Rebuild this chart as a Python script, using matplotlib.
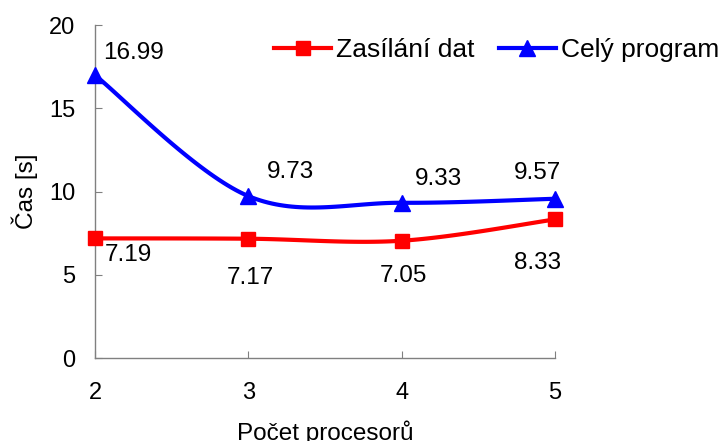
import numpy as np
import matplotlib
matplotlib.use("Agg")
import matplotlib.pyplot as plt

procs = [2, 3, 4, 5]
zasilani = [7.19, 7.17, 7.05, 8.33]
cely = [16.99, 9.73, 9.33, 9.57]
series_names = ["Zasílání dat", "Celý program"]
xlabel = "Počet procesorů"
ylabel = "Čas [s]"

plt.rcParams['font.family'] = ['Liberation Sans', 'DejaVu Sans']


def smooth(xs, ys, n=40):
    """Catmull-Rom style Bezier smoothing like Excel's smoothed line."""
    P = np.column_stack([xs, ys]).astype(float)
    Pext = np.vstack([P[0], P, P[-1]])
    out = []
    t = np.linspace(0, 1, n)[:, None]
    for i in range(len(P) - 1):
        p0, p1, p2, p3 = Pext[i], Pext[i + 1], Pext[i + 2], Pext[i + 3]
        c1 = p1 + (p2 - p0) / 6
        c2 = p2 - (p3 - p1) / 6
        seg = ((1 - t) ** 3) * p1 + 3 * ((1 - t) ** 2) * t * c1 + 3 * (1 - t) * t ** 2 * c2 + t ** 3 * p2
        out.append(seg if i == 0 else seg[1:])
    s = np.vstack(out)
    return s[:, 0], s[:, 1]


fig = plt.figure(figsize=(7.2, 4.41), dpi=100)
ax = fig.add_axes([0.132, 0.188, 0.639, 0.755])

red = '#FF0000'
blue = '#0000FF'

sx, sy = smooth(procs, zasilani)
ax.plot(sx, sy, color=red, lw=3, solid_capstyle='round', zorder=3, clip_on=False)
ax.plot(procs, zasilani, ls='none', marker='s', ms=10.5, color=red, zorder=4, clip_on=False)
sx, sy = smooth(procs, cely)
ax.plot(sx, sy, color=blue, lw=3, solid_capstyle='round', zorder=3, clip_on=False)
ax.plot(procs, cely, ls='none', marker='^', ms=11, color=blue, zorder=4, clip_on=False)

# legend proxies
ax.plot([], [], color=red, lw=3, marker='s', ms=10.5, label=series_names[0])
ax.plot([], [], color=blue, lw=3, marker='^', ms=11, label=series_names[1])

fs = 17.5
red_off = [(33, -17), (2, -39), (2, -35), (-18, -44)]
blue_off = [(38, 22), (42, 24), (37, 24), (-18, 26)]
for x, y, o in zip(procs, zasilani, red_off):
    ax.annotate(f"{y:.2f}", (x, y), xytext=(o[0] / 1.389, o[1] / 1.389), textcoords='offset points',
                ha='center', va='center', fontsize=fs, annotation_clip=False)
for x, y, o in zip(procs, cely, blue_off):
    ax.annotate(f"{y:.2f}", (x, y), xytext=(o[0] / 1.389, o[1] / 1.389), textcoords='offset points',
                ha='center', va='center', fontsize=fs, annotation_clip=False)

ax.set_xlim(2, 5)
ax.set_ylim(0, 20)
ax.set_xticks(procs)
ax.set_yticks([0, 5, 10, 15, 20])
for s in ['top', 'right']:
    ax.spines[s].set_visible(False)
for s in ['left', 'bottom']:
    ax.spines[s].set_color('#808080')
    ax.spines[s].set_linewidth(1)
ax.tick_params(axis='both', direction='in', length=5, color='#808080', labelsize=17)
ax.tick_params(axis='x', pad=17)
ax.tick_params(axis='y', pad=14)
ax.set_xlabel(xlabel, fontsize=fs, labelpad=12)
ax.set_ylabel(ylabel, fontsize=fs, labelpad=8)

leg = ax.legend(loc='center', bbox_to_anchor=(0.873, 0.925), ncol=2, frameon=False, fontsize=19,
                handlelength=2.16, handletextpad=0.19, columnspacing=0.9, borderaxespad=0,
                borderpad=0)

fig.savefig('out.png', dpi=100)
